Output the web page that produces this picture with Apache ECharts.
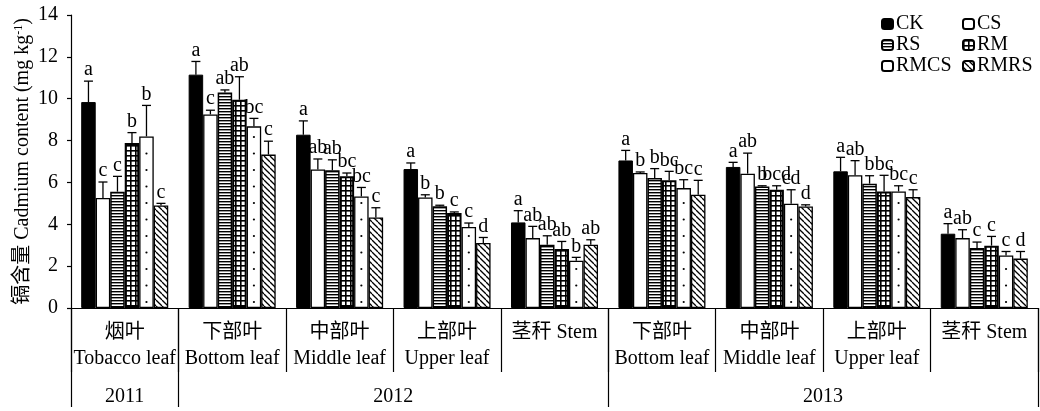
<!DOCTYPE html>
<html>
<head>
<meta charset="utf-8">
<script src="https://cdn.jsdelivr.net/npm/echarts@6/dist/echarts.min.js"></script>
<style>
  html, body { margin: 0; padding: 0; background: #fff; }
  #chart { width: 1040px; height: 411px; }
</style>
</head>
<body>
<div id="chart"></div>
<script>
// Sampled organs, grouped by year
const categories = [
  '烟叶\nTobacco leaf',
  '下部叶\nBottom leaf', '中部叶\nMiddle leaf', '上部叶\nUpper leaf', '茎秆 Stem',
  '下部叶\nBottom leaf', '中部叶\nMiddle leaf', '上部叶\nUpper leaf', '茎秆 Stem'
];
const years = ['2011', '2012', '2013'];
const yTicks = [0, 2, 4, 6, 8, 10, 12, 14];

// Cadmium content (mg kg-1), standard deviation and significance letters per treatment
const CK = [9.84, 11.15, 8.28, 6.64, 4.09, 7.05, 6.74, 6.53, 3.55];
const CK_err = [1.0, 0.63, 0.66, 0.29, 0.56, 0.48, 0.22, 0.67, 0.48];
const CK_sig = ['a', 'a', 'a', 'a', 'a', 'a', 'a', 'a', 'a'];

const CS = [5.26, 9.25, 6.62, 5.28, 3.34, 6.45, 6.42, 6.34, 3.34];
const CS_err = [0.76, 0.2, 0.5, 0.13, 0.56, 0.05, 0.98, 0.7, 0.4];
const CS_sig = ['c', 'c', 'ab', 'b', 'ab', 'b', 'ab', 'ab', 'ab'];

const RS = [5.56, 10.3, 6.58, 4.86, 3.02, 6.21, 5.81, 5.94, 2.87];
const RS_err = [0.73, 0.12, 0.5, 0.05, 0.43, 0.45, 0.03, 0.38, 0.28];
const RS_sig = ['c', 'ab', 'ab', 'b', 'ab', 'b', 'b', 'b', 'c'];

const RM = [7.88, 9.95, 6.3, 4.54, 2.82, 6.1, 5.65, 5.57, 2.98];
const RM_err = [0.5, 1.1, 0.15, 0.05, 0.36, 0.43, 0.19, 0.77, 0.44];
const RM_sig = ['b', 'ab', 'bc', 'c', 'ab', 'bc', 'bcd', 'bc', 'c'];

const RMCS = [8.2, 8.68, 5.33, 3.87, 2.26, 5.73, 4.98, 5.57, 2.51];
const RMCS_err = [1.48, 0.38, 0.43, 0.19, 0.16, 0.4, 0.67, 0.27, 0.19];
const RMCS_sig = ['b', 'bc', 'bc', 'c', 'b', 'bc', 'cd', 'bc', 'c'];

const RMRS = [4.9, 7.33, 4.33, 3.11, 3.02, 5.41, 4.85, 5.3, 2.36];
const RMRS_err = [0.1, 0.64, 0.46, 0.26, 0.24, 0.69, 0.08, 0.35, 0.34];
const RMRS_sig = ['c', 'c', 'c', 'd', 'ab', 'c', 'd', 'c', 'd'];

const treatments = ['CK', 'CS', 'RS', 'RM', 'RMCS', 'RMRS'];
const values = [CK, CS, RS, RM, RMCS, RMRS];
const errors = [CK_err, CS_err, RS_err, RM_err, RMCS_err, RMRS_err];
const letters = [CK_sig, CS_sig, RS_sig, RM_sig, RMCS_sig, RMRS_sig];

// ---- drawing ----
const SERIF = "'Liberation Serif', 'Times New Roman', 'Noto Sans CJK SC', serif";
const CAT_GAP = 0.19;
const TOTAL_W = 1 - CAT_GAP;

function tile(w, h, draw) {
  const c = document.createElement('canvas');
  c.width = w; c.height = h;
  const ctx = c.getContext('2d');
  ctx.fillStyle = '#fff';
  ctx.fillRect(0, 0, w, h);
  ctx.fillStyle = '#000';
  ctx.strokeStyle = '#000';
  draw(ctx);
  return { image: c, repeat: 'repeat' };
}
const hStripes = tile(4, 3, ctx => ctx.fillRect(0, 0, 4, 1.4));
const gridFill = tile(5, 5, ctx => { ctx.fillRect(0, 0, 5, 1.6); ctx.fillRect(0, 0, 1.6, 5); });
const diagFill = tile(6, 6, ctx => {
  ctx.lineWidth = 1.3;
  [-6, 0, 6].forEach(x => { ctx.beginPath(); ctx.moveTo(x, 0); ctx.lineTo(x + 6, 6); ctx.stroke(); });
});

const styles = [
  { color: '#000', borderColor: '#000', borderWidth: 1 },
  { color: '#fff', borderColor: '#000', borderWidth: 1.3 },
  { color: hStripes, borderColor: '#000', borderWidth: 1.5 },
  { color: gridFill, borderColor: '#000', borderWidth: 2 },
  { color: '#fff', borderColor: '#000', borderWidth: 1.3 },
  { color: diagFill, borderColor: '#000', borderWidth: 1.3 }
];

const barSeries = treatments.map((name, si) => ({
  name,
  type: 'bar',
  data: values[si],
  barGap: 0,
  barCategoryGap: (CAT_GAP * 100) + '%',
  itemStyle: styles[si],
  emphasis: { disabled: true }
}));

// error bars, letters and the dot fill of RMCS
const errData = [];
const errLetters = [];
values.forEach((arr, si) => arr.forEach((v, ci) => {
  errData.push([ci, si, v, errors[si][ci]]);
  errLetters.push(letters[si][ci]);
}));

function renderErr(params, api) {
  const ci = api.value(0), si = api.value(1), v = api.value(2), e = api.value(3);
  const catW = api.size([1, 0])[0];
  const bw = catW * TOTAL_W / 6;
  const x = api.coord([ci, 0])[0] - catW * TOTAL_W / 2 + (si + 0.5) * bw;
  const y0 = api.coord([ci, 0])[1];
  const yTop = api.coord([ci, v])[1];
  const yErr = api.coord([ci, v + e])[1];
  const lineStyle = { stroke: '#000', lineWidth: 1.3 };
  const children = [
    { type: 'line', shape: { x1: x, y1: yTop, x2: x, y2: yErr }, style: lineStyle },
    { type: 'line', shape: { x1: x - 4.5, y1: yErr, x2: x + 4.5, y2: yErr }, style: lineStyle },
    {
      type: 'text', x: x, y: yErr - 1,
      style: {
        text: errLetters[params.dataIndex], fill: '#000',
        fontSize: 20, fontFamily: SERIF, align: 'center', verticalAlign: 'bottom'
      }
    }
  ];
  if (treatments[si] === 'RMCS') {
    for (let y = y0 - 6; y > yTop + 4; y -= 16.5) {
      children.push({ type: 'circle', shape: { cx: x, cy: y, r: 1.1 }, style: { fill: '#000' } });
    }
  }
  return { type: 'group', children };
}

// legend laid out as a 2-column key
const legendCols = [881, 962];
const legendRows = [14, 35, 56];
const legends = treatments.map((name, i) => ({
  data: [name],
  left: legendCols[i % 2],
  top: legendRows[Math.floor(i / 2)],
  padding: 0,
  itemWidth: 11, itemHeight: 10, itemGap: 0,
  selectedMode: false,
  textStyle: { fontSize: 20, fontFamily: SERIF, color: '#000', padding: [0, 0, 0, -2] }
}));

const chart = echarts.init(document.getElementById('chart'), null, { renderer: 'canvas' });
chart.setOption({
  animation: false,
  backgroundColor: '#fff',
  textStyle: { fontFamily: SERIF, color: '#000' },
  grid: { left: 71, right: 2, top: 15, bottom: 103, containLabel: false, outerBoundsMode: 'none' },
  legend: legends,
  xAxis: [
    {
      type: 'category',
      data: categories,
      boundaryGap: true,
      axisLine: { lineStyle: { color: '#000', width: 1.2 } },
      axisTick: { show: true, length: 64, lineStyle: { color: '#000', width: 1.2 } },
      axisLabel: {
        interval: 0, margin: 12, color: '#000', fontSize: 20, fontFamily: SERIF,
        lineHeight: 26
      }
    },
    {
      type: 'value', min: 0, max: 9, position: 'bottom',
      axisLine: { show: false },
      splitLine: { show: false },
      axisTick: { show: true, length: 99, customValues: [0, 1, 5, 9], lineStyle: { color: '#000', width: 1.2 } },
      axisLabel: {
        customValues: [0.5, 3, 7], margin: 79, color: '#000', fontSize: 20, fontFamily: SERIF,
        formatter: v => (v === 0.5 ? years[0] : v === 3 ? years[1] : years[2])
      }
    }
  ],
  yAxis: {
    type: 'value', min: yTicks[0], max: yTicks[yTicks.length - 1], interval: 2,
    name: '镉含量 Cadmium content (mg kg{sup|-1})',
    nameLocation: 'middle', nameGap: 38, nameMoveOverlap: false,
    nameTextStyle: {
      fontSize: 20, fontFamily: SERIF, color: '#000',
      rich: { sup: { fontSize: 12, fontFamily: SERIF, color: '#000', verticalAlign: 'top', padding: [0, 0, 8, 0] } }
    },
    axisLine: { show: true, lineStyle: { color: '#000', width: 1.2 } },
    axisTick: { show: true, length: 4, lineStyle: { color: '#000', width: 1.2 } },
    axisLabel: { margin: 13, color: '#000', fontSize: 20, fontFamily: SERIF },
    splitLine: { show: false }
  },
  series: barSeries.concat([{
    type: 'custom',
    name: 'err',
    renderItem: renderErr,
    data: errData,
    encode: { x: 0, y: 2 },
    clip: false,
    silent: true,
    z: 5
  }])
});
</script>
</body>
</html>
